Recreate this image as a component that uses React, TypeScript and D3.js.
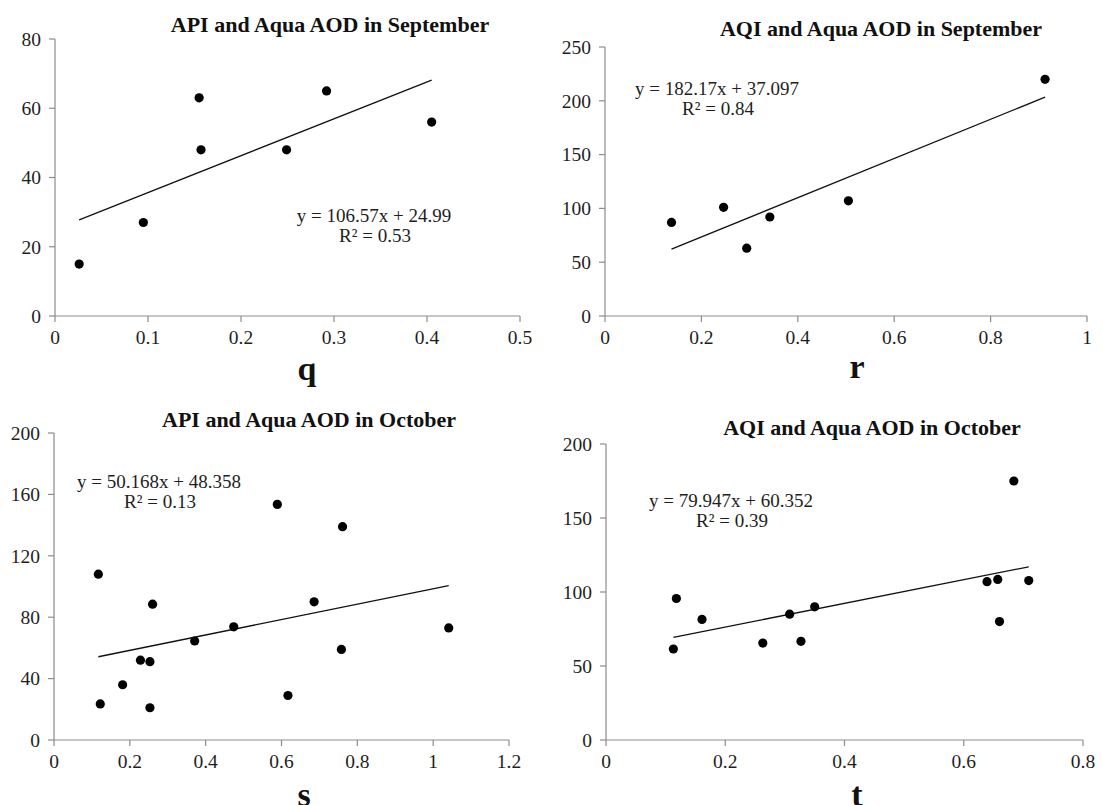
import React from "react";
import * as d3 from "d3";

// ---- Data ----
const qX = [0.026, 0.095, 0.155, 0.157, 0.249, 0.292, 0.405];
const qY = [15, 27, 63, 48, 48, 65, 56];
const rX = [0.138, 0.246, 0.294, 0.342, 0.505, 0.913];
const rY = [87, 101, 63, 92, 107, 220];
const sX = [0.117, 0.122, 0.181, 0.228, 0.253, 0.253, 0.26, 0.371, 0.474, 0.589, 0.617, 0.686, 0.758, 0.761, 1.041];
const sY = [108, 23.5, 36, 52, 51, 21, 88.5, 64.5, 73.7, 153.5, 29, 90, 59, 139, 73];
const tX = [0.113, 0.118, 0.161, 0.263, 0.308, 0.327, 0.35, 0.639, 0.657, 0.66, 0.684, 0.709];
const tY = [61.5, 95.6, 81.5, 65.5, 85, 66.7, 90, 107, 108.5, 80, 175, 107.7];

const titles = [
  "API and Aqua AOD in September",
  "AQI and Aqua AOD in September",
  "API and Aqua AOD in October",
  "AQI and Aqua AOD in October",
];
const letters = ["q", "r", "s", "t"];
const slopes = [106.57, 182.17, 50.168, 79.947];
const intercepts = [24.99, 37.097, 48.358, 60.352];
const eqTexts = [
  "y = 106.57x + 24.99",
  "y = 182.17x + 37.097",
  "y = 50.168x + 48.358",
  "y = 79.947x + 60.352",
];
const r2Texts = ["R² = 0.53", "R² = 0.84", "R² = 0.13", "R² = 0.39"];

const qXTicks = [0, 0.1, 0.2, 0.3, 0.4, 0.5];
const qYTicks = [0, 20, 40, 60, 80];
const rXTicks = [0, 0.2, 0.4, 0.6, 0.8, 1];
const rYTicks = [0, 50, 100, 150, 200, 250];
const sXTicks = [0, 0.2, 0.4, 0.6, 0.8, 1, 1.2];
const sYTicks = [0, 40, 80, 120, 160, 200];
const tXTicks = [0, 0.2, 0.4, 0.6, 0.8];
const tYTicks = [0, 50, 100, 150, 200];

const FONT = "'Liberation Serif', 'Times New Roman', serif";

type Layout = {
  x0: number; x1: number; yTop: number; yBot: number;
  titleX: number; titleY: number;
  eqX: number; eqY: number;
  letterX: number; letterY: number;
};

const layouts: Layout[] = [
  { x0: 55, x1: 520, yTop: 39, yBot: 316, titleX: 330, titleY: 32, eqX: 374, eqY: 222, letterX: 307, letterY: 380 },
  { x0: 605, x1: 1087, yTop: 47, yBot: 316, titleX: 881, titleY: 36, eqX: 717, eqY: 95, letterX: 857, letterY: 378 },
  { x0: 54, x1: 509, yTop: 433, yBot: 740, titleX: 309, titleY: 427, eqX: 159, eqY: 488, letterX: 304, letterY: 806 },
  { x0: 606, x1: 1083, yTop: 444, yBot: 740, titleX: 872, titleY: 435, eqX: 731, eqY: 507, letterX: 857, letterY: 806 },
];

type PanelProps = {
  xs: number[]; ys: number[]; xTicks: number[]; yTicks: number[];
  idx: number;
};

function Panel({ xs, ys, xTicks, yTicks, idx }: PanelProps) {
  const L = layouts[idx];
  const x = d3.scaleLinear().domain([xTicks[0], xTicks[xTicks.length - 1]]).range([L.x0, L.x1]);
  const y = d3.scaleLinear().domain([yTicks[0], yTicks[yTicks.length - 1]]).range([L.yBot, L.yTop]);
  const xmin = d3.min(xs) as number;
  const xmax = d3.max(xs) as number;
  const line = d3.line<number>().x((d) => x(d)).y((d) => y(slopes[idx] * d + intercepts[idx]));
  const axisColor = "#8c8c8c";
  const textColor = "#1e1e1e";
  return (
    <g>
      <text x={L.titleX} y={L.titleY} textAnchor="middle" fontFamily={FONT} fontWeight="bold" fontSize={22} fill="#111">
        {titles[idx]}
      </text>
      <line x1={L.x0} x2={L.x0} y1={L.yTop} y2={L.yBot} stroke={axisColor} strokeWidth={1.2} />
      <line x1={L.x0} x2={L.x1} y1={L.yBot} y2={L.yBot} stroke={axisColor} strokeWidth={1.2} />
      {yTicks.map((t) => (
        <g key={"y" + t}>
          <line x1={L.x0 - 6} x2={L.x0} y1={y(t)} y2={y(t)} stroke={axisColor} strokeWidth={1.2} />
          <text x={L.x0 - 14} y={y(t)} dy="0.35em" textAnchor="end" fontFamily={FONT} fontSize={19.5} fill={textColor}>
            {String(t)}
          </text>
        </g>
      ))}
      {xTicks.map((t) => (
        <g key={"x" + t}>
          <line x1={x(t)} x2={x(t)} y1={L.yBot} y2={L.yBot + 6} stroke={axisColor} strokeWidth={1.2} />
          <text x={x(t)} y={L.yBot + 28} textAnchor="middle" fontFamily={FONT} fontSize={19.5} fill={textColor}>
            {String(t)}
          </text>
        </g>
      ))}
      <path d={line([xmin, xmax]) || ""} stroke="#111" strokeWidth={1.3} fill="none" />
      {xs.map((v, i) => (
        <circle key={i} cx={x(v)} cy={y(ys[i])} r={4.6} fill="#000" />
      ))}
      <text x={L.eqX} y={L.eqY} textAnchor="middle" fontFamily={FONT} fontSize={19} fill={textColor}>
        {eqTexts[idx]}
      </text>
      <text x={L.eqX + 1} y={L.eqY + 20} textAnchor="middle" fontFamily={FONT} fontSize={19} fill={textColor}>
        {r2Texts[idx]}
      </text>
      <text x={L.letterX} y={L.letterY} textAnchor="middle" fontFamily={FONT} fontWeight="bold" fontSize={34} fill="#111">
        {letters[idx]}
      </text>
    </g>
  );
}

export default function App() {
  return (
    <svg
      width={1103}
      height={805}
      viewBox="0 0 1103 805"
      style={{ position: "absolute", left: 0, top: 0, background: "#fff", display: "block" }}
    >
      <rect x={0} y={0} width={1103} height={805} fill="#fff" />
      <Panel xs={qX} ys={qY} xTicks={qXTicks} yTicks={qYTicks} idx={0} />
      <Panel xs={rX} ys={rY} xTicks={rXTicks} yTicks={rYTicks} idx={1} />
      <Panel xs={sX} ys={sY} xTicks={sXTicks} yTicks={sYTicks} idx={2} />
      <Panel xs={tX} ys={tY} xTicks={tXTicks} yTicks={tYTicks} idx={3} />
    </svg>
  );
}
